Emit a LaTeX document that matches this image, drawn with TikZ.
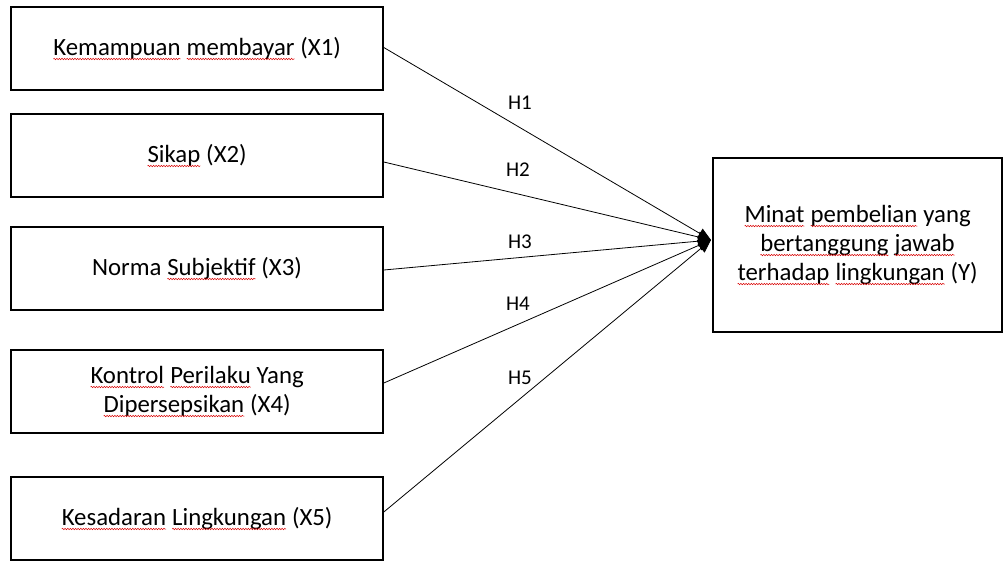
\documentclass[tikz,border=0pt]{standalone}
\usepackage{fontspec}
\setmainfont{Carlito}
\usetikzlibrary{arrows.meta,decorations.pathmorphing}
\newcommand\rwave[1]{\tikz[baseline=(w.base)]{\node[inner sep=0pt,outer sep=0pt,draw=none,minimum width=0pt,minimum height=0pt,line width=0.4pt] (w) {#1};
  \draw[red!85!black, line width=0.5pt, decorate, decoration={snake,amplitude=0.7pt,segment length=2.6pt}] ([yshift=-3.8pt]w.base west) -- ([yshift=-3.8pt]w.base east);}}
\begin{document}
\begin{tikzpicture}[x=1pt,y=-1pt,
  box/.style={draw, line width=1.6pt, align=center, inner sep=0pt,
    font=\fontsize{24.8}{29}\selectfont},
  conn/.style={line width=0.8pt, -{Triangle[length=13pt,width=11pt]}},
  hlab/.style={font=\fontsize{21}{24}\selectfont, inner sep=0pt}]
\useasboundingbox (0,0) rectangle (1008,562);
\node[box, minimum width=372pt, minimum height=83pt] (b1) at (197,48.5) {\rwave{Kemampuan} \rwave{membayar} (X1)};
\node[box, minimum width=372pt, minimum height=83pt] (b2) at (197,155.5) {\rwave{Sikap} (X2)};
\node[box, minimum width=372pt, minimum height=83pt] (b3) at (197,268.5) {Norma \rwave{Subjektif} (X3)};
\node[box, minimum width=372pt, minimum height=83pt] (b4) at (197,391.5) {\rwave{Kontrol} \rwave{Perilaku} Yang\\ \rwave{Dipersepsikan} (X4)};
\node[box, minimum width=372pt, minimum height=83pt] (b5) at (197,518.5) {\rwave{Kesadaran} \rwave{Lingkungan} (X5)};
\node[box, minimum width=289pt, minimum height=174pt] (y) at (857.5,245) {\rwave{Minat} \rwave{pembelian} yang\\ \rwave{bertanggung} \rwave{jawab}\\ \rwave{terhadap} \rwave{lingkungan} (Y)};
\coordinate (tip) at (711,240);
\draw[conn] ([yshift=1pt]b1.east) -- (tip);
\draw[conn] ([yshift=-6.5pt]b2.east) -- (tip);
\draw[conn] ([yshift=-1.5pt]b3.east) -- (tip);
\draw[conn] ([yshift=8.5pt]b4.east) -- (tip);
\draw[conn] ([yshift=6.5pt]b5.east) -- (tip);
\node[hlab] (h1) at (520,103) {H1};
\node[hlab] (h2) at (518,170) {H2};
\node[hlab] (h3) at (520,242) {H3};
\node[hlab] (h4) at (518,304) {H4};
\node[hlab] (h5) at (520,378) {H5};
\end{tikzpicture}
\end{document}
